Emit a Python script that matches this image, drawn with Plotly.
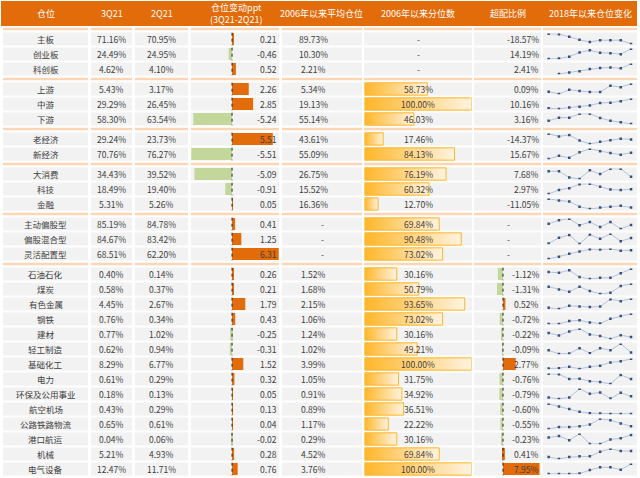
import plotly.graph_objects as go

W, H = 640, 478

names = ["主板", "创业板", "科创板", "上游", "中游", "下游", "老经济", "新经济",
         "大消费", "科技", "金融", "主动偏股型", "偏股混合型", "灵活配置型",
         "石油石化", "煤炭", "有色金属", "钢铁", "建材", "轻工制造", "基础化工",
         "电力", "环保及公用事业", "航空机场", "公路铁路物流", "港口航运", "机械", "电气设备"]
groups = [0, 0, 0, 1, 1, 1, 2, 2, 3, 3, 3, 4, 4, 4] + [5] * 14

q3_21 = [71.16, 24.49, 4.62, 5.43, 29.29, 58.30, 29.24, 70.76, 34.43, 18.49, 5.31,
         85.19, 84.67, 68.51, 0.40, 0.58, 4.45, 0.76, 0.77, 0.62, 8.29, 0.61, 0.18,
         0.43, 0.65, 0.04, 5.21, 12.47]
q2_21 = [70.95, 24.95, 4.10, 3.17, 26.45, 63.54, 23.73, 76.27, 39.52, 19.40, 5.26,
         84.78, 83.42, 62.20, 0.14, 0.37, 2.67, 0.34, 1.02, 0.94, 6.77, 0.29, 0.13,
         0.29, 0.61, 0.06, 4.93, 11.71]
ppt_change = [0.21, -0.46, 0.52, 2.26, 2.85, -5.24, 5.51, -5.51, -5.09, -0.91, 0.05,
              0.41, 1.25, 6.31, 0.26, 0.21, 1.79, 0.43, -0.25, -0.31, 1.52, 0.32, 0.05,
              0.13, 0.04, -0.02, 0.28, 0.76]
avg_since_2006 = [89.73, 10.30, 2.21, 5.34, 19.13, 55.14, 43.61, 55.09, 26.75, 15.52, 16.36,
                  None, None, None, 1.52, 1.68, 2.15, 1.06, 1.24, 1.02, 3.99, 1.05, 0.91,
                  0.89, 1.17, 0.29, 4.52, 3.76]
pct_since_2006 = [None, None, None, 58.73, 100.00, 46.03, 17.46, 84.13, 76.19, 60.32, 12.70,
                  69.84, 90.48, 73.02, 30.16, 50.79, 93.65, 73.02, 30.16, 49.21, 100.00,
                  31.75, 34.92, 36.51, 22.22, 30.16, 69.84, 100.00]
overweight = [-18.57, 14.19, 2.41, 0.09, 10.16, 3.16, -14.37, 15.67, 7.68, 2.97, -11.05,
              None, None, None, -1.12, -1.31, 0.52, -0.72, -0.22, -0.09, 2.77, -0.76,
              -0.79, -0.60, -0.55, -0.23, 0.41, 7.95]
spark_2018 = [
    [38, 37, 29, 20, 14, 19, 19, 19, 8],
    [7, 8, 13, 25, 31, 24, 23, 20, 35],
    [None, 12, 16, 19, 25, 28, 29, 27, 39],
    [18, 12, 23, 20, 17, 17, 34, 30, 39],
    [8, 6, 10, 12, 16, 23, 24, 28, 35],
    [18, 27, 27, 38, 38, 26, 18, 14, 9],
    [35, 28, 32, 17, 8, 14, 18, 22, 20],
    [7, 15, 10, 24, 33, 27, 22, 18, 23],
    [29, 29, 11, 7, 32, 21, 36, 36, 13],
    [8, 19, 24, 35, 36, 28, 20, 19, 21],
    [30, 26, 24, 12, 7, 10, 12, 14, 10],
    [21, 31, 35, 17, 26, 12, 26, 7, 18],
    [8, 23, 30, 7, 31, 20, 33, 14, 22],
    [4, 10, 18, 24, 30, 29, 31, 26, 27],
    [24, 22, 29, 10, 5, 8, 8, 21, 33],
    [25, 17, 11, 25, 13, 5, 8, 27, 33],
    [9, 6, 14, 12, 11, 12, 31, 26, 32],
    [5, 5, 13, 15, 9, 6, 19, 27, 33],
    [21, 14, 25, 32, 17, 13, 5, 15, 10],
    [14, 4, 5, 20, 6, 20, 14, 32, 8],
    [5, 6, 10, 4, 10, 13, 22, 25, 32],
    [33, 32, 19, 20, 13, 11, 6, 30, 19],
    [9, 5, 9, 33, 19, 23, 6, 22, 12],
    [34, 26, 19, 11, 7, 6, 5, 5, 5],
    [5, 10, 10, 12, 17, 33, 29, 20, 12],
    [23, 27, 16, 33, 6, 6, 18, 21, 30],
    [15, 10, 15, 17, 17, 30, 38, 32, 32],
    [8, 8, 8, 9, 19, 27, 27, 20, 37],
]
headers = ["仓位", "3Q21", "2Q21", "仓位变动ppt<br>(3Q21-2Q21)", "2006年以来平均仓位",
           "2006年以来分位数", "超配比例", "2018年以来仓位变化"]

# ---------- layout constants (pixels) ----------
ORANGE = "#E26B0A"
GREEN = "#C4D79B"
GRAY = "#F2F2F2"
PEACH = "#FCD5B4"
TXT = "#404040"
FONT = "Noto Sans CJK SC"
cols = [(3, 88), (91, 132), (135, 188), (191, 279), (282, 362), (364, 472), (474, 541), (543, 637)]
ROW0, PITCH, GAP = 39.0, 15.0, 1.0 / 3.0

pos = [i + g * GAP for i, g in enumerate(groups)]
def px(p):
    return ROW0 + PITCH * p
def xp(v):
    return v / W

fig = go.Figure()
shapes = []
annotations = []

# header
shapes.append(dict(type="rect", xref="paper", yref="paper", x0=xp(1), x1=xp(637),
                   y0=1 - 26 / H, y1=1 - 1 / H, fillcolor=ORANGE, line=dict(width=0), layer="below"))
hx = [45.5, 111.5, 161.5, 236, 321, 418, 508, 590]
for h, x in zip(headers, hx):
    annotations.append(dict(text=h, x=xp(x), y=1 - 13.5 / H, xref="paper", yref="paper",
                            showarrow=False, xanchor="center", yanchor="middle",
                            font=dict(family=FONT, size=9, color="white")))

# cell backgrounds
for p in pos:
    for (l, r) in cols:
        shapes.append(dict(type="rect", xref="paper", yref="y", x0=xp(l), x1=xp(r),
                           y0=p - 0.43, y1=p + 0.43, fillcolor=GRAY, line=dict(width=0), layer="below"))
# separators
firsts = [i for i in range(len(groups)) if i == 0 or groups[i] != groups[i - 1]]
for f in firsts:
    s = pos[f] - 0.5 - GAP / 2
    for (l, r) in cols:
        shapes.append(dict(type="rect", xref="paper", yref="y", x0=xp(l), x1=xp(r),
                           y0=s - 0.09, y1=s + 0.09, fillcolor=PEACH, line=dict(width=0), layer="below"))

# ---------- ppt change bars ----------
fig.add_trace(go.Bar(x=ppt_change, y=pos, orientation="h", xaxis="x", yaxis="y", width=0.8,
                     marker=dict(color=[ORANGE if v >= 0 else GREEN for v in ppt_change], line=dict(width=0)),
                     hoverinfo="skip", showlegend=False))
zx, zy = [], []
for p in pos:
    zx += [0, 0, None]
    zy += [p - 0.42, p + 0.42, None]
fig.add_trace(go.Scatter(x=zx, y=zy, xaxis="x", yaxis="y", mode="lines",
                         line=dict(color="#222222", width=1, dash="dot"), hoverinfo="skip", showlegend=False))

# ---------- percentile bars (gradient) ----------
for p, v in zip(pos, pct_since_2006):
    if v is None:
        continue
    fig.add_trace(go.Scatter(x=[0, v, v, 0, 0], y=[p - 0.41, p - 0.41, p + 0.41, p + 0.41, p - 0.41],
                             xaxis="x2", yaxis="y", mode="lines", fill="toself",
                             fillgradient=dict(type="horizontal",
                                               colorscale=[[0, "#FFB628"], [1, "#FFF3E0"]]),
                             line=dict(color="#FFB628", width=1), hoverinfo="skip", showlegend=False))

# ---------- overweight bars (industries only) ----------
ind_pos = [p for p, g, v in zip(pos, groups, overweight) if g == 5 and v is not None]
ind_val = [v for g, v in zip(groups, overweight) if g == 5 and v is not None]
fig.add_trace(go.Bar(x=ind_val, y=ind_pos, orientation="h", xaxis="x3", yaxis="y", width=0.8,
                     marker=dict(color=[ORANGE if v >= 0 else GREEN for v in ind_val], line=dict(width=0)),
                     hoverinfo="skip", showlegend=False))
ox, oy = [], []
for p in ind_pos:
    ox += [0, 0, None]
    oy += [p - 0.42, p + 0.42, None]
fig.add_trace(go.Scatter(x=ox, y=oy, xaxis="x3", yaxis="y", mode="lines",
                         line=dict(color="#222222", width=1, dash="dot"), hoverinfo="skip", showlegend=False))

# ---------- sparklines ----------
layout_axes = {}
for i, (p, vals) in enumerate(zip(pos, spark_2018)):
    c = px(p)
    ax = i + 2
    vv = [v for v in vals if v is not None]
    lo, hi = min(vv), max(vv)
    pad = (hi - lo) * 0.03
    layout_axes["yaxis%d" % ax] = dict(domain=[1 - (c + 5.2) / H, 1 - (c - 5.5) / H],
                                      range=[lo - pad, hi + pad], visible=False, anchor="x4",
                                      fixedrange=True)
    fig.add_trace(go.Scatter(x=list(range(len(vals))), y=vals, xaxis="x4", yaxis="y%d" % ax,
                             mode="lines+markers", connectgaps=False,
                             line=dict(color="#B0C2DC", width=1),
                             marker=dict(symbol="square", size=2.5, color="#34507E"),
                             hoverinfo="skip", showlegend=False))

# ---------- text ----------
def ann(text, x, y, anchor="center"):
    annotations.append(dict(text=text, x=xp(x), y=y, xref="paper", yref="y", showarrow=False,
                            xanchor=anchor, yanchor="middle",
                            font=dict(family=FONT, size=8.5, color=TXT)))

fmt_pct = lambda v: "-" if v is None else "%.2f%%" % v
for i, p in enumerate(pos):
    ann(names[i], 45.5, p)
    ann(fmt_pct(q3_21[i]), 111.5, p)
    ann(fmt_pct(q2_21[i]), 161.5, p)
    ann("%.2f" % ppt_change[i], 278.5, p, "right")
    if avg_since_2006[i] is None:
        ann("-", 322, p)
    else:
        ann(fmt_pct(avg_since_2006[i]), 313, p)
    ann(fmt_pct(pct_since_2006[i]), 418, p)
    if overweight[i] is None:
        ann("-", 508, p)
    else:
        ann(fmt_pct(overweight[i]), 541, p, "right")

ax_common = dict(visible=False, showgrid=False, zeroline=False, fixedrange=True)
fig.update_layout(
    width=W, height=H, margin=dict(l=0, r=0, t=0, b=0),
    paper_bgcolor="white", plot_bgcolor="rgba(0,0,0,0)",
    font=dict(family=FONT, size=8.5, color=TXT),
    showlegend=False, barmode="overlay",
    xaxis=dict(domain=[xp(191), xp(279)], range=[-5.55, 6.35], anchor="y", **ax_common),
    xaxis2=dict(domain=[xp(364.5), xp(471.5)], range=[0, 100], anchor="y", **ax_common),
    xaxis3=dict(domain=[xp(474), xp(541)], range=[-6.3, 8.26], anchor="y", **ax_common),
    xaxis4=dict(domain=[xp(543), xp(637)], range=[-0.55, 8.58], anchor="y2", **ax_common),
    yaxis=dict(domain=[0, 1], range=[(H - ROW0) / PITCH, -ROW0 / PITCH], anchor="x", **ax_common),
    shapes=shapes, annotations=annotations,
)
fig.update_layout(**layout_axes)
fig.write_html("out.html", config={"displayModeBar": False},
               post_script="document.body.style.margin='0';document.body.style.padding='0';document.body.style.overflow='hidden';")
